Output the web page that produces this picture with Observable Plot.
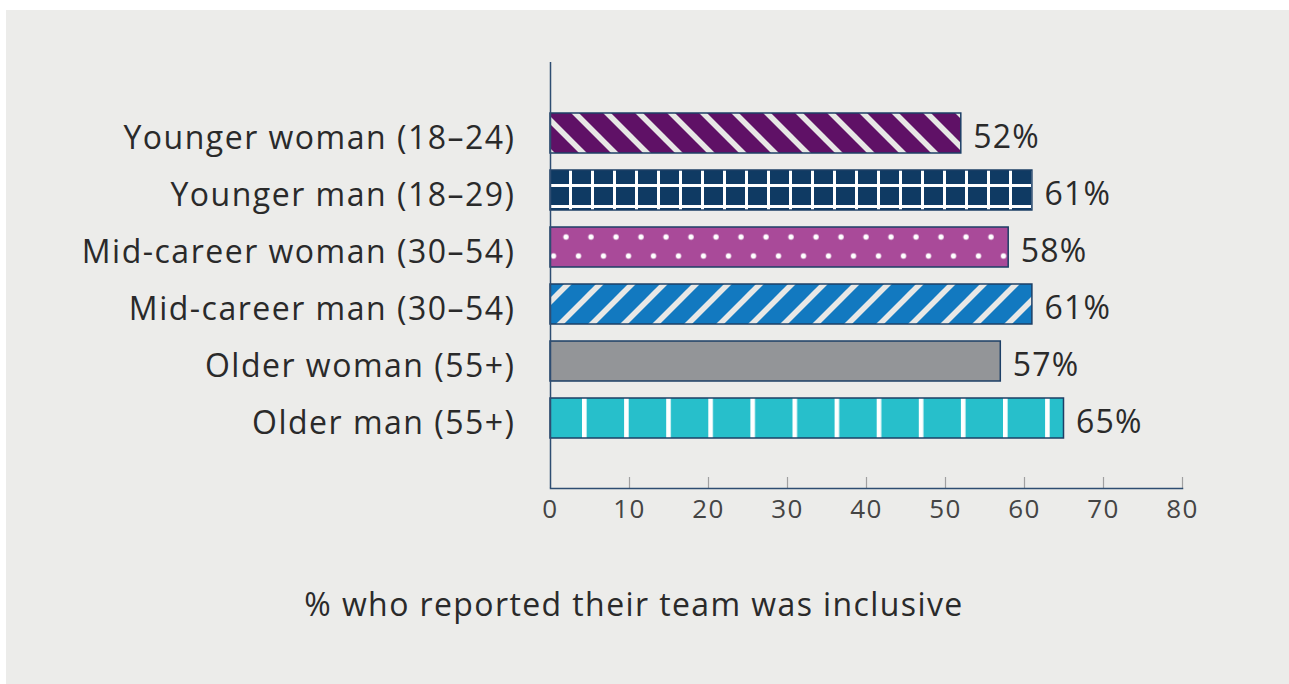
<!DOCTYPE html>
<html>
<head>
<meta charset="utf-8">
<script src="https://cdn.jsdelivr.net/npm/d3@7"></script>
<script src="https://cdn.jsdelivr.net/npm/@observablehq/plot@0.6"></script>
<style>
  body { margin: 0; background: #ffffff; }
  #panel { position: absolute; left: 6px; top: 10px; width: 1283px; height: 674px; background: #ececea; font-family: "Open Sans", sans-serif; }
  #caption { position: absolute; left: 0; top: 578px; width: 1256px; text-align: center; font-size: 32px; line-height: 32px; color: #2a2a2a; letter-spacing: 1.4px; }
  g[aria-label="y-axis tick label"] text { letter-spacing: 1.5px; }
  g[aria-label="x-axis tick label"] text { letter-spacing: 1.5px; }
  g[aria-label="text"] text { letter-spacing: 1.2px; }
</style>
</head>
<body>
<svg width="0" height="0" style="position:absolute">
  <defs>
    <pattern id="pYW" patternUnits="userSpaceOnUse" x="18" y="0" width="32" height="32">
      <rect width="32" height="32" fill="#5f1166"></rect>
      <path d="M-8,-8L40,40M-8,24L8,40M24,-8L40,8" stroke="#e8e8e6" stroke-width="5.6"></path>
    </pattern>
    <pattern id="pYM" patternUnits="userSpaceOnUse" x="563" y="174" width="22" height="21">
      <rect width="22" height="21" fill="#0f3a63"></rect>
      <rect x="0" y="0" width="3" height="21" fill="#ffffff"></rect>
      <rect x="0" y="0" width="22" height="3" fill="#ffffff"></rect>
    </pattern>
    <pattern id="pMW" patternUnits="userSpaceOnUse" x="541.75" y="217.5" width="25" height="38">
      <rect width="25" height="38" fill="#a94a99"></rect>
      <circle cx="18.25" cy="9.5" r="2.7" fill="#ffffff"></circle>
      <circle cx="5.75" cy="28.5" r="2.7" fill="#ffffff"></circle>
    </pattern>
    <pattern id="pMM" patternUnits="userSpaceOnUse" x="4" y="0" width="32" height="32">
      <rect width="32" height="32" fill="#1279c0"></rect>
      <path d="M-8,40L40,-8M-8,8L8,-8M24,40L40,24" stroke="#e8e8e6" stroke-width="5.6"></path>
    </pattern>
    <pattern id="pOM" patternUnits="userSpaceOnUse" x="576" y="0" width="42.1" height="40">
      <rect width="42.1" height="40" fill="#27bfcb"></rect>
      <rect x="0" y="0" width="4.6" height="40" fill="#ffffff"></rect>
    </pattern>
  </defs>
</svg>
<div id="panel">
  <div id="chart"></div>
  <div id="caption">% who reported their team was inclusive</div>
</div>
<script>
const categories = [
  "Younger woman (18–24)",
  "Younger man (18–29)",
  "Mid-career woman (30–54)",
  "Mid-career man (30–54)",
  "Older woman (55+)",
  "Older man (55+)"
];
const values = [52, 61, 58, 61, 57, 65];
const xTicks = [0, 10, 20, 30, 40, 50, 60, 70, 80];

// styles (fills) per category
const fills = ["url(#pYW)", "url(#pYM)", "url(#pMW)", "url(#pMM)", "#939598", "url(#pOM)"];

const data = categories.map((c, i) => ({category: c, value: values[i], fill: fills[i]}));

const W = 1283, H = 530, mT = 52, mB = 52, mL = 544, mR = 107;
const frameH = H - mT - mB;

const chart = Plot.plot({
  width: W,
  height: H,
  marginLeft: mL,
  marginRight: mR,
  marginTop: mT,
  marginBottom: mB,
  style: {background: "transparent", fontFamily: "Open Sans, sans-serif", color: "#2a2a2a", overflow: "visible"},
  x: {domain: [0, 80], axis: null, label: null},
  y: {domain: categories, padding: 0.3, paddingOuter: 0.88, axis: null, label: null},
  color: {type: "identity"},
  marks: [
    Plot.barX(data, {x: "value", y: "category", fill: "fill", stroke: "#1d3f66", strokeWidth: 1.5}),
    Plot.ruleX(xTicks.filter(d => d > 0), {stroke: "#a0a0a0", strokeWidth: 1.2, insetTop: frameH - 11}),
    Plot.ruleX([0], {stroke: "#2e4d72", strokeWidth: 1.5}),
    Plot.frame({anchor: "bottom", stroke: "#2e4d72", strokeWidth: 1.5}),
    Plot.axisX({ticks: xTicks, tickSize: 0, tickPadding: 11, fontSize: 26, fill: "#444", label: null}),
    Plot.axisY({tickSize: 0, tickPadding: 35, fontSize: 32, fill: "#2a2a2a", dy: 5, label: null}),
    Plot.text(data, {x: "value", y: "category", text: d => d.value + "%", dx: 12, dy: 4, textAnchor: "start", fontSize: 32, fill: "#2a2a2a"})
  ]
});
document.getElementById("chart").appendChild(chart);
</script>
</body>
</html>
